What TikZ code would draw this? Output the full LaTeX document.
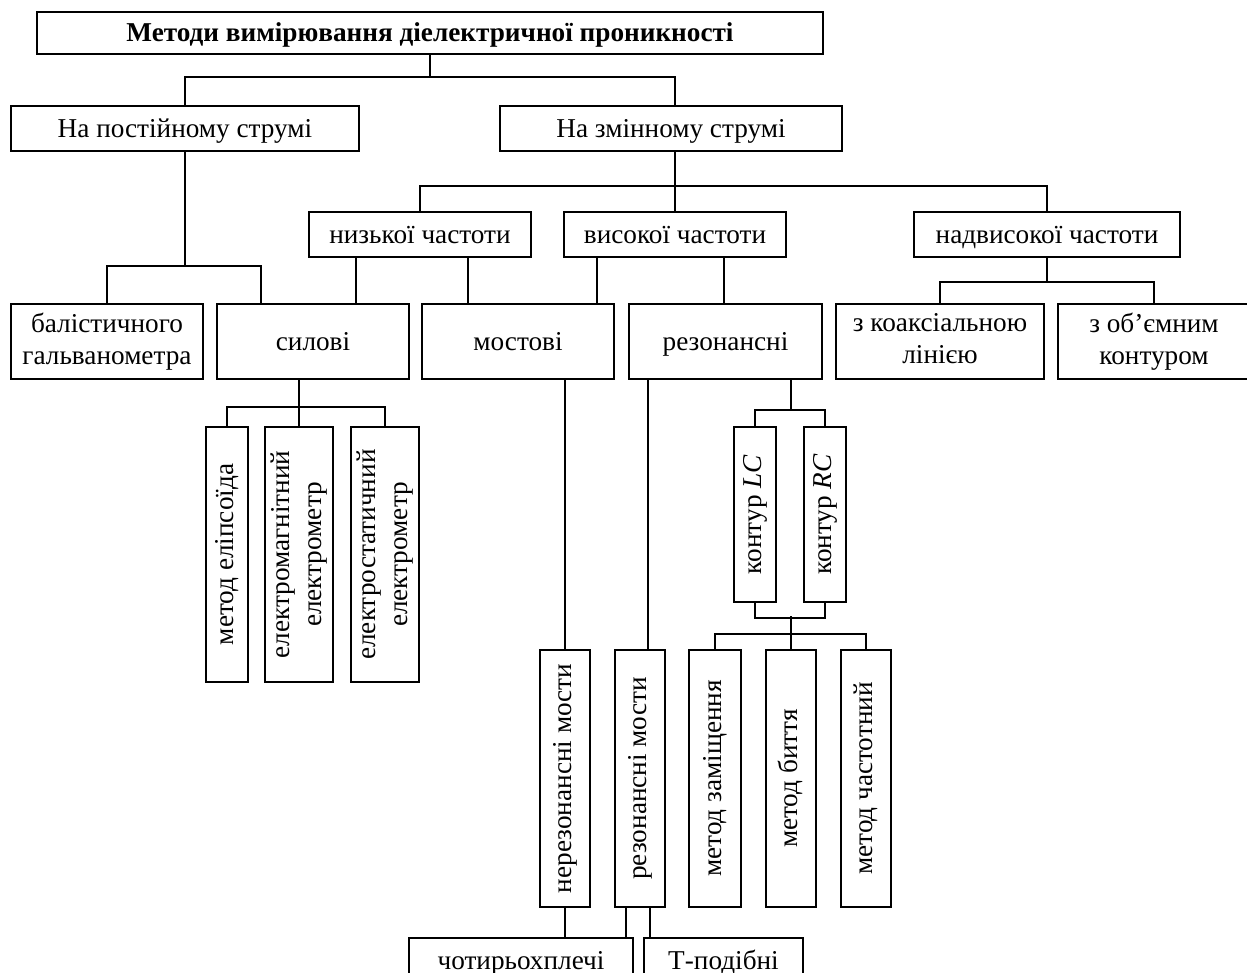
\documentclass[tikz,border=0pt]{standalone}
\usepackage{fontspec}
\setmainfont{Liberation Serif}
\usepackage{graphicx}
\newcommand{\vtesto}[1]{\rotatebox{90}{\begin{tabular}{@{}c@{}}#1\end{tabular}}}
\newcommand{\puntello}{\vrule height 13.5pt depth 3.5pt width 0pt}
\begin{document}
\begin{tikzpicture}[x=0.02cm,y=-0.02cm,line width=1.1pt,
    blocco/.style 2 args={draw,inner sep=0pt,align=center,
        minimum width=#1*0.02cm,minimum height=#2*0.02cm,
        font=\fontsize{15.5}{18.2}\selectfont},
    riga/.style={execute at begin node=\puntello,execute at end node=\puntello}]
\clip (0,0) rectangle (1247,973);
%titolo
\node[blocco={786}{42},riga] (titolo) at (430,33) {\textbf{Методи вимірювання діелектричної проникності}};
%livello 1
\node[blocco={348}{45},riga] (dc) at (185,128.5) {На постійному струмі};
\node[blocco={342}{45},riga] (ac) at (671,128.5) {На змінному струмі};
%livello 2
\node[blocco={222}{45},riga] (bassa) at (420,234.5) {низької частоти};
\node[blocco={222}{45},riga] (alta) at (675,234.5) {високої частоти};
\node[blocco={266}{45},riga] (uhf) at (1047,234.5) {надвисокої частоти};
%livello 3
\node[blocco={192}{75},riga] (balist) at (107,341.5) {балістичного\\гальванометра};
\node[blocco={192}{75},riga] (silovi) at (313,341.5) {силові};
\node[blocco={192}{75},riga] (mostovi) at (518,341.5) {мостові};
\node[blocco={193}{75},riga] (rezon) at (725.5,341.5) {резонансні};
\node[blocco={208}{75},riga] (coax) at (940,341.5) {з коаксіальною\\лінією};
\node[blocco={192}{75},riga] (cavita) at (1154,341.5) {з об’ємним\\контуром};
%blocchi verticali
\node[blocco={42}{255}] (v1) at (227,554.5) {\vtesto{метод еліпсоїда}};
\node[blocco={68}{255}] (v2) at (299,554.5) {\vtesto{електромагнітний\\електрометр}};
\node[blocco={68}{255}] (v3) at (385,554.5) {\vtesto{електростатичний\\електрометр}};
\node[blocco={42}{175}] (lc) at (755,514.5) {\vtesto{контур \textit{LC}}};
\node[blocco={42}{175}] (rc) at (825,514.5) {\vtesto{контур \textit{RC}}};
\node[blocco={50}{257}] (nonres) at (565,778.5) {\vtesto{нерезонансні мости}};
\node[blocco={50}{257}] (resmost) at (640,778.5) {\vtesto{резонансні мости}};
\node[blocco={52}{257}] (m1) at (715,778.5) {\vtesto{метод заміщення}};
\node[blocco={50}{257}] (m2) at (791,778.5) {\vtesto{метод биття}};
\node[blocco={50}{257}] (m3) at (866,778.5) {\vtesto{метод частотний}};
%in basso
\node[blocco={224}{45},riga] (quattro) at (521,960.5) {чотирьохплечі};
\node[blocco={159}{45},riga] (ti) at (723.5,960.5) {Т-подібні};
%collegamenti
\draw (dc.north) -- ++(0,-28) coordinate (jtit) -| (ac.north -| alta.north);
\draw (titolo.south) -- (titolo.south |- jtit);
\draw (bassa.north) -- ++(0,-25) coordinate (jac) -| (uhf.north);
\draw (ac.south -| alta.north) -- (alta.north);
\draw (balist.north) -- ++(0,-37) coordinate (jdc) -| (silovi.north -| 261,0);
\draw (dc.south) -- (dc.south |- jdc);
\draw (bassa.south -| 356,0) -- (silovi.north -| 356,0);
\draw (bassa.south -| 468,0) -- (mostovi.north -| 468,0);
\draw (alta.south -| 597,0) -- (mostovi.north -| 597,0);
\draw (alta.south -| 724,0) -- (rezon.north -| 724,0);
\draw (coax.north) -- ++(0,-21) coordinate (juhf) -| (cavita.north);
\draw (uhf.south) -- (uhf.south |- juhf);
%sotto silovi
\draw (v1.north) -- ++(0,-19) -| (v3.north);
\draw (silovi.south -| v2.north) -- (v2.north);
%sotto mostovi e rezon
\draw (mostovi.south -| nonres.north) -- (nonres.north);
\draw (rezon.south -| 648,0) -- (resmost.north -| 648,0);
\draw (lc.north) -- ++(0,-16) coordinate (jres) -| (rc.north);
\draw (rezon.south -| 791,0) -- (jres -| 791,0);
\draw (lc.south) -- ++(0,15) -| (rc.south);
\draw (m1.north) -- ++(0,-15) -| (m3.north);
\draw (m2.north) -- ++(0,-33);
%ponti
\draw (nonres.south) -- (nonres.south |- quattro.north);
\draw (resmost.south -| 626,0) -- (quattro.north -| 626,0);
\draw (resmost.south -| 650,0) -- (ti.north -| 650,0);
\end{tikzpicture}
\end{document}
